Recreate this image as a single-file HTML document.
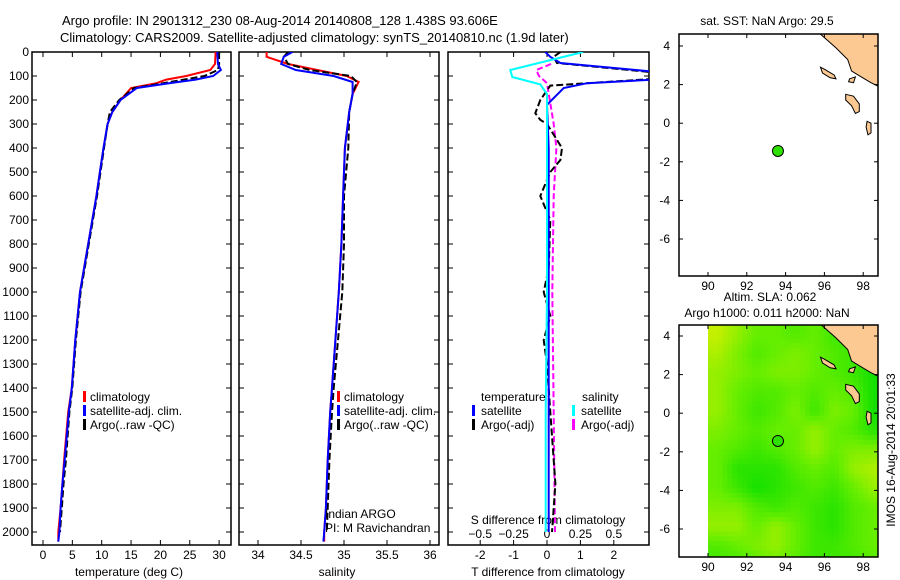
<!DOCTYPE html>
<html><head><meta charset="utf-8">
<style>
html,body{margin:0;padding:0;background:#fff;}
svg{display:block;font-family:"Liberation Sans",sans-serif;}
text{font-size:12px;fill:#000;}
</style></head>
<body>
<svg id="fig" width="900" height="580" viewBox="0 0 900 580" xmlns="http://www.w3.org/2000/svg">
<defs>
<clipPath id="clip1"><rect x="32" y="52" width="199" height="493"/></clipPath>
<clipPath id="clip2"><rect x="239" y="52" width="200" height="493"/></clipPath>
<clipPath id="clip3"><rect x="448" y="52" width="201" height="493"/></clipPath>
<clipPath id="clipm1"><rect x="679" y="34" width="199" height="242"/></clipPath>
<clipPath id="clipm2"><rect x="679" y="325" width="199" height="232"/></clipPath>
</defs>
<text x="62" y="25" style="font-size:13px">Argo profile: IN 2901312_230 08-Aug-2014 20140808_128 1.438S 93.606E</text>
<text x="60" y="42" style="font-size:13px">Climatology: CARS2009. Satellite-adjusted climatology: synTS_20140810.nc (1.9d later)</text>
<g id="g1"></g>
<g id="g2"></g>
<g id="g3"></g>
<g id="gm1"></g>
<g id="gm2"></g>
<text transform="translate(895,450) rotate(-90)" text-anchor="middle">IMOS 16-Aug-2014 20:01:33</text>
</svg>
<script>
// ---- temperature panel data ----
const tDepth = [0,50,75,100,115,130,150,200,250,300,400,500,600,800,1000,1200,1400,1500,1700,1800,1900,2000,2040];
const tClim  = [29.4,29.3,28.5,24.4,21,19.3,15,13.2,11.8,11,10.3,9.7,9.1,7.7,6.3,5.5,4.9,4.3,3.6,3.3,3.0,2.6,2.6];
const tSat   = [29.7,29.8,30.3,29.0,26,21.5,16,13.2,11.8,11,10.3,9.7,9.1,7.7,6.3,5.5,4.9,4.4,3.7,3.3,3.0,2.8,2.6];
const argoDepth = [0,50,75,100,115,130,150,200,250,300,400,500,600,800,1000,1200,1400,1500,1700,1800,1900,2000];
const tArgo  = [30,30,29.8,27.5,24,20.5,15.5,13.0,11.4,11,10.4,9.8,9.2,7.8,6.4,5.6,5.0,4.5,3.9,3.5,3.2,2.9];
// ---- salinity panel data ----
const sDepth = [0,20,50,75,100,125,175,250,400,600,800,1000,1200,1400,1500,1700,1900,2000,2040];
const sClim  = [34.1,34.1,34.35,34.69,35.03,35.17,35.1,35.06,35.01,34.99,34.97,34.94,34.9,34.86,34.84,34.81,34.79,34.77,34.77];
const sSat   = [34.4,34.3,34.27,34.44,34.88,35.1,35.1,35.06,35.01,34.99,34.97,34.94,34.9,34.86,34.84,34.81,34.79,34.77,34.76];
const sArgoDepth = [0,20,50,75,100,125,175,250,400,600,800,1000,1200,1400,1500,1700,1900,2000];
const sArgo  = [34.35,34.3,34.35,34.6,35.08,35.15,35.1,35.06,35.05,35.0,35.0,34.98,34.93,34.88,34.86,34.83,34.81,34.8];
// ---- difference panel data ----
const dtDepth = [0,20,46,82,115,130,150,220,400,800,1200,1600,2000];
const dtSat   = [-0.05,0.1,0.4,3.2,3.2,1.2,0.5,0,0.05,0.05,0.05,0.05,0.05];
const dtArgoDepth = [0,20,46,85,112,140,200,255,283,300,400,450,500,600,700,900,1000,1100,1200,1300,1500,1700,1800,1900,2000];
const dtArgo  = [0.4,0.2,0.3,3.2,3.2,0.1,-0.2,-0.35,-0.2,0,0.45,0.4,0.1,-0.2,0.1,0.05,-0.1,0.1,-0.1,0,0.1,0.2,0.25,0.2,0.15];
const dsDepth = [0,75,104,135,175,1000,1500,2000];
const dsSat   = [0.27,-0.275,-0.26,-0.05,0,0,-0.01,-0.01];
const dsArgoDepth = [50,75,100,130,300,400,600,1000,1500,2000];
const dsArgo  = [0.03,-0.08,-0.06,0,0.05,0.07,0.05,0.04,0.05,0.06];
// ---- tick labels ----
const depthTicks = [0,100,200,300,400,500,600,700,800,900,1000,1100,1200,1300,1400,1500,1600,1700,1800,1900,2000];
const tTicks = [0,5,10,15,20,25,30];
const sTicks = [34,34.5,35,35.5,36];
const dTTicks = [-2,-1,0,1,2];
const dSTicks = [-0.5,-0.25,0,0.25,0.5];
const lonTicks = [90,92,94,96,98];
const latTicks = [4,2,0,-2,-4,-6];
// ---- maps ----
const argoLon = 93.606, argoLat = -1.438;
const slaLats = [4.62,3.62,2.62,1.62,0.62,-0.38,-1.38,-2.38,-3.38,-4.38,-5.38,-6.38,-7.38];
const slaLons = [90,91,92,93,94,95,96,97,98];
const slaGrid = [
 [0.9,0.7,0.5,0.5,0.4,0.5,0.3,0.3,0.2],
 [0.8,0.6,0.4,0.5,0.6,0.5,0.4,0.3,0.2],
 [0.7,0.6,0.5,0.6,0.6,0.5,0.4,0.3,0.1],
 [0.7,0.5,0.4,0.4,0.5,0.4,0.5,0.4,0.1],
 [0.7,0.5,0.3,0.4,0.6,0.3,0.6,0.5,0.1],
 [0.6,0.5,0.4,0.5,0.5,0.7,0.5,0.4,0.2],
 [0.5,0.4,0.3,0.4,0.5,0.7,0.5,0.6,0.6],
 [0.5,0.2,0.2,0.2,0.4,0.5,0.4,0.7,0.8],
 [0.5,0.3,0.1,0.2,0.3,0.4,0.3,0.5,0.7],
 [0.6,0.6,0.4,0.3,0.4,0.3,0.2,0.4,0.5],
 [0.7,0.7,0.5,0.7,0.5,0.3,0.2,0.4,0.5],
 [0.4,0.5,0.6,0.7,0.5,0.3,0.3,0.4,0.5],
 [0.3,0.3,0.4,0.5,0.4,0.3,0.3,0.3,0.4]
];
const sumatra = [[95.7,4.7],[96.6,3.9],[97.2,3.3],[97.4,2.7],[97.9,2.4],[98.4,2.1],[98.8,1.9],[98.8,4.7]];
const simeulue = [[95.8,2.9],[96.0,2.8],[96.5,2.5],[96.6,2.3],[96.3,2.35],[95.9,2.6]];
const nias = [[97.1,1.5],[97.5,1.4],[97.8,1.0],[97.8,0.6],[97.6,0.5],[97.4,0.9],[97.1,1.2]];
const smallIsl = [[97.3,2.3],[97.6,2.4],[97.5,2.1],[97.25,2.15]];
const batu = [[98.2,0.1],[98.4,0.0],[98.4,-0.5],[98.25,-0.6],[98.15,-0.2]];

const NS="http://www.w3.org/2000/svg";
function mk(parent,tag,attrs){const e=document.createElementNS(NS,tag);for(const k in attrs)e.setAttribute(k,attrs[k]);parent.appendChild(e);return e;}
const ys = d => 52 + d*0.24;
const tx = t => 43 + t*5.87;
const sx = s => 258 + (s-34)*86;
const dx = v => 547 + v*33.4;
const dsx = v => dx(v*4);
function pathD(xs,ds,fx){return xs.map((v,i)=>(i?'L':'M')+fx(v).toFixed(1)+','+ys(ds[i]).toFixed(1)).join(' ');}

function panelFrame(g,x0,x1,showY){
  const r=mk(g,'rect',{x:x0,y:52,width:x1-x0,height:493,fill:'none',stroke:'#000','stroke-width':1.5});
  
  
  depthTicks.forEach(d=>{
    mk(g,'line',{x1:x0,x2:x0+5,y1:ys(d),y2:ys(d),stroke:'#000'});
    mk(g,'line',{x1:x1,x2:x1-5,y1:ys(d),y2:ys(d),stroke:'#000'});
    if(showY){const t=mk(g,'text',{x:29,y:ys(d)+4,'text-anchor':'end'});t.textContent=d;
      
      }
  });
}
function xTicks(g,vals,fx,y,lbl){
  vals.forEach(v=>{
    mk(g,'line',{x1:fx(v),x2:fx(v),y1:545,y2:540,stroke:'#000'});
    mk(g,'line',{x1:fx(v),x2:fx(v),y1:52,y2:57,stroke:'#000'});
    if(lbl){const t=mk(g,'text',{x:fx(v),y:y,'text-anchor':'middle'});t.textContent=lbl(v);
      
      }
  });
}
function line(g,clip,xs,ds,fx,color,dash,name,w){
  const p=mk(g,'path',{d:pathD(xs,ds,fx),fill:'none',stroke:color,'stroke-width':w||2,'clip-path':'url(#'+clip+')'});
  if(dash)p.setAttribute('stroke-dasharray',dash);
  
  
}
function txt(g,x,y,s,name,anchor){const t=mk(g,'text',{x:x,y:y});if(anchor)t.setAttribute('text-anchor',anchor);t.textContent=s;
  
  return t;}
function legMark(g,x,y,color,name){const r=mk(g,'rect',{x:x,y:y-10,width:3,height:11,fill:color});
  
  }

// Panel 1
const g1=document.getElementById('g1');
panelFrame(g1,32,231,true);
xTicks(g1,tTicks,tx,559,v=>v);
txt(g1,129,576,'temperature (deg C)','x-axis-title','middle');
line(g1,'clip1',tClim,tDepth,tx,'#f00',null,'climatology-temperature-line');
line(g1,'clip1',tArgo,argoDepth,tx,'#000','7,3','argo-temperature-line');
line(g1,'clip1',tSat,tDepth,tx,'#00f',null,'satellite-temperature-line');
legMark(g1,83,401,'#f00','legend-marker-climatology');txt(g1,90,401,'climatology','legend-climatology');
legMark(g1,83,415,'#00f','legend-marker-satellite');txt(g1,90,415,'satellite-adj. clim.','legend-satellite');
legMark(g1,83,429,'#000','legend-marker-argo');txt(g1,90,429,'Argo(..raw -QC)','legend-argo');

// Panel 2
const g2=document.getElementById('g2');
panelFrame(g2,239,439,false);
xTicks(g2,sTicks,sx,559,v=>v);
txt(g2,337,576,'salinity','x-axis-title','middle');
line(g2,'clip2',sClim,sDepth,sx,'#f00',null,'climatology-salinity-line');
line(g2,'clip2',sArgo,sArgoDepth,sx,'#000','7,3','argo-salinity-line');
line(g2,'clip2',sSat,sDepth,sx,'#00f',null,'satellite-salinity-line');
legMark(g2,337,401,'#f00','legend-marker-climatology');txt(g2,344,401,'climatology','legend-climatology');
legMark(g2,337,415,'#00f','legend-marker-satellite');txt(g2,344,415,'satellite-adj. clim.','legend-satellite');
legMark(g2,337,429,'#000','legend-marker-argo');txt(g2,344,429,'Argo(..raw -QC)','legend-argo');
txt(g2,325,518,'Indian ARGO','data-source-label');
txt(g2,325,532,'PI: M Ravichandran','pi-label');

// Panel 3
const g3=document.getElementById('g3');
panelFrame(g3,448,649,false);
xTicks(g3,dTTicks,dx,559,v=>v);
dSTicks.forEach(v=>{txt(g3,dsx(v),538,v===0?'0':String(v).replace('-','\u2212'),'s-tick-label','middle');});
txt(g3,548,524,'S difference from climatology','s-axis-title','middle');
txt(g3,548,576,'T difference from climatology','t-axis-title','middle');
line(g3,'clip3',dsArgo,dsArgoDepth,dsx,'#f0f','6,3','argo-salinity-diff-line');
line(g3,'clip3',dtArgo,dtArgoDepth,dx,'#000','7,3','argo-temperature-diff-line');
line(g3,'clip3',dtSat,dtDepth,dx,'#00f',null,'satellite-temperature-diff-line');
line(g3,'clip3',dsSat,dsDepth,dsx,'#0ff',null,'satellite-salinity-diff-line');
txt(g3,481,401,'temperature','legend-temperature-header');
txt(g3,582,401,'salinity','legend-salinity-header');
legMark(g3,472,415,'#00f','legend-marker-t-satellite');txt(g3,481,415,'satellite','legend-t-satellite');
legMark(g3,472,429,'#000','legend-marker-t-argo');txt(g3,481,429,'Argo(-adj)','legend-t-argo');
legMark(g3,572,415,'#0ff','legend-marker-s-satellite');txt(g3,581,415,'satellite','legend-s-satellite');
legMark(g3,572,429,'#f0f','legend-marker-s-argo');txt(g3,581,429,'Argo(-adj)','legend-s-argo');

// Maps
const lx = lon => 708 + (lon-90)*19.4;
function drawMap(g,top,bottom,clip,lat4y){
  const ly = lat => lat4y - (lat-4)*19.3;
  return {ly:ly, frame:()=>{
    const r=mk(g,'rect',{x:679,y:top,width:199,height:bottom-top,fill:'none',stroke:'#000','stroke-width':1.5});
    
    
    lonTicks.forEach(v=>{mk(g,'line',{x1:lx(v),x2:lx(v),y1:bottom,y2:bottom-4,stroke:'#000'});mk(g,'line',{x1:lx(v),x2:lx(v),y1:top,y2:top+4,stroke:'#000'});
      txt(g,lx(v),bottom+14,v,'lon-tick-label','middle');});
    latTicks.forEach(v=>{mk(g,'line',{x1:679,x2:683,y1:ly(v),y2:ly(v),stroke:'#000'});mk(g,'line',{x1:878,x2:874,y1:ly(v),y2:ly(v),stroke:'#000'});
      txt(g,670,ly(v)+4,v===0?'0':String(v),'lat-tick-label','end');});
  }, land:()=>{
    [sumatra,simeulue,nias,smallIsl,batu].forEach((poly)=>{
      const p=mk(g,'polygon',{points:poly.map(q=>lx(q[0]).toFixed(1)+','+ly(q[1]).toFixed(1)).join(' '),fill:'#fcc992',stroke:'#000','stroke-width':1,'clip-path':'url(#'+clip+')'});
      
      
    });
    const c=mk(g,'circle',{cx:lx(argoLon),cy:ly(argoLat),r:5.5,fill:'#2ee000',stroke:'#000','stroke-width':1});
    
    
  }};
}
const gm1=document.getElementById('gm1');
const m1=drawMap(gm1,34,276,'clipm1',46);
txt(gm1,767,25,'sat. SST: NaN Argo: 29.5','sst-map-title','middle');
m1.land();m1.frame();

const gm2=document.getElementById('gm2');
const m2=drawMap(gm2,325,557,'clipm2',336);
txt(gm2,770,301,'Altim. SLA: 0.062','sla-map-title','middle');
txt(gm2,767,317,'Argo h1000: 0.011 h2000: NaN','sla-map-subtitle','middle');
function slaColor(t){
  let r,gg;
  if(t<0.5){const u=t/0.5;r=u*102;gg=221+u*17;}
  else{const u=(t-0.5)/0.5;r=102+u*119;gg=238+u*2;}
  return 'rgb('+Math.round(r)+','+Math.round(gg)+',0)';
}
function slaAt(fi,fj){
  const nR=slaGrid.length,nC=slaGrid[0].length;
  fi=Math.max(0,Math.min(nR-1,fi));fj=Math.max(0,Math.min(nC-1,fj));
  const i0=Math.floor(fi),j0=Math.floor(fj),i1=Math.min(nR-1,i0+1),j1=Math.min(nC-1,j0+1);
  const a=fi-i0,b=fj-j0;
  return (slaGrid[i0][j0]*(1-b)+slaGrid[i0][j1]*b)*(1-a)+(slaGrid[i1][j0]*(1-b)+slaGrid[i1][j1]*b)*a;
}
const sub=4;
for(let i=0;i<slaGrid.length*sub;i++){
  for(let j=0;j<slaGrid[0].length*sub;j++){
    const fi=(i+0.5)/sub-0.5, fj=(j+0.5)/sub-0.5;
    const v=slaAt(fi,fj);
    const x0=lx(slaLons[0]+j/sub), y0=m2.ly(slaLats[0]-i/sub);
    const c=mk(gm2,'rect',{x:x0.toFixed(2),y:y0.toFixed(2),width:(19.4/sub+0.4).toFixed(2),height:(19.3/sub+0.4).toFixed(2),fill:slaColor(v),'clip-path':'url(#clipm2)'});
    
    
  }
}
m2.land();m2.frame();
</script>
</body></html>
